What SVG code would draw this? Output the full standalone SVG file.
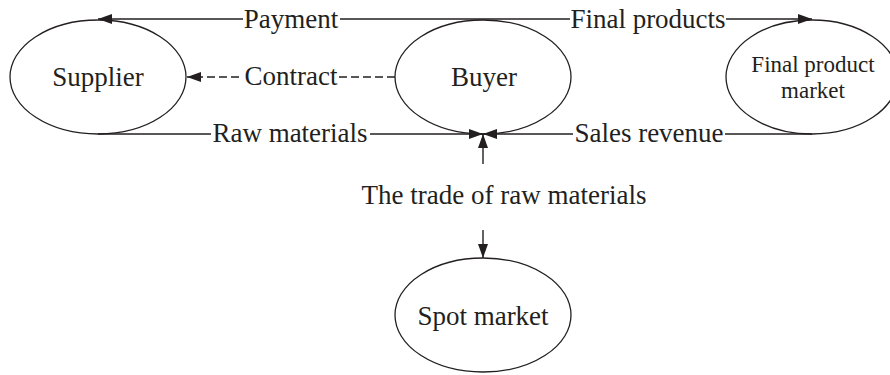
<svg xmlns="http://www.w3.org/2000/svg" width="890" height="375" viewBox="0 0 890 375">
<style>
.n{fill:#fff;stroke:#231f20;stroke-width:1.3}
.c{stroke:#231f20;stroke-width:1.4;fill:none}
.d{stroke-dasharray:8 4}
.t{font-family:"Liberation Serif","Times New Roman",serif;fill:#231f20;text-anchor:middle;font-size:27px}
.s{font-size:23px}
.bg{fill:#fff}
</style>
<defs>
<marker id="ah" viewBox="0 0 14 10" refX="14" refY="5" markerWidth="14" markerHeight="10" markerUnits="userSpaceOnUse" orient="auto">
<path d="M0,0L14,5L0,10Z" fill="#231f20"/>
</marker>
</defs>
<rect width="890" height="375" fill="#fff"/>
<g id="node-supplier"><ellipse class="n" cx="98" cy="77" rx="88" ry="57"/><text class="t" x="98" y="86">Supplier</text></g>
<g id="node-buyer"><ellipse class="n" cx="483" cy="77" rx="88" ry="57"/><text class="t" x="484" y="86">Buyer</text></g>
<g id="node-final"><ellipse class="n" cx="812" cy="77" rx="86" ry="57"/><text class="t s" x="813" y="72">Final product</text><text class="t s" x="813" y="98">market</text></g>
<g id="node-spot"><ellipse class="n" cx="483" cy="315" rx="88" ry="57"/><text class="t" x="483" y="325">Spot market</text></g>
<g id="connectors">
<line class="c" x1="470" y1="19" x2="98" y2="19" marker-end="url(#ah)"/>
<line class="c" x1="470" y1="19" x2="812" y2="19" marker-end="url(#ah)"/>
<line class="c d" x1="395" y1="77" x2="187" y2="77" marker-end="url(#ah)"/>
<line class="c" x1="98" y1="134" x2="483" y2="134" marker-end="url(#ah)"/>
<line class="c" x1="812" y1="134" x2="483" y2="134" marker-end="url(#ah)"/>
<line class="c" x1="483" y1="164" x2="483" y2="134" marker-end="url(#ah)"/>
<line class="c" x1="483" y1="230" x2="483" y2="258" marker-end="url(#ah)"/>
<rect class="bg" x="243" y="6" width="97" height="28"/>
<text class="t" x="291" y="28">Payment</text>
<rect class="bg" x="570" y="6" width="156" height="28"/>
<text class="t" x="648" y="28">Final products</text>
<rect class="bg" x="243" y="64" width="96" height="28"/>
<text class="t" x="291" y="85">Contract</text>
<rect class="bg" x="211" y="121" width="159" height="28"/>
<text class="t" x="290" y="142">Raw materials</text>
<rect class="bg" x="573" y="121" width="152" height="28"/>
<text class="t" x="649" y="142">Sales revenue</text>
<text class="t" x="504" y="204">The trade of raw materials</text>
</g>
</svg>
